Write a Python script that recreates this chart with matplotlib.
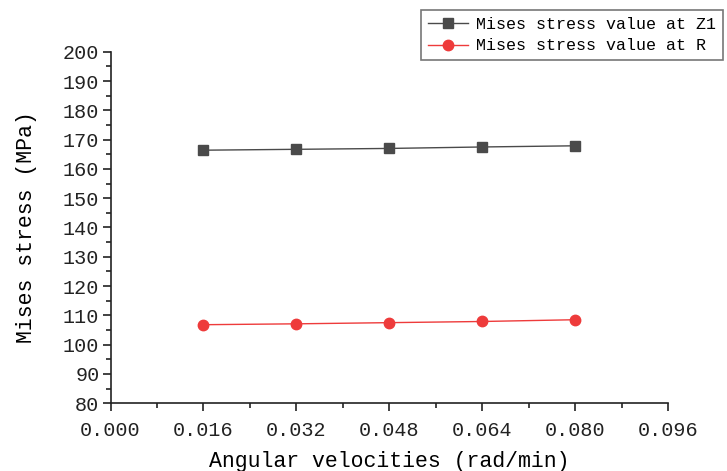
import matplotlib
matplotlib.use("Agg")
import matplotlib.pyplot as plt
from matplotlib.ticker import MultipleLocator, FormatStrFormatter

velocities = [0.016, 0.032, 0.048, 0.064, 0.080]
stress_z1 = [166.4, 166.7, 167.0, 167.5, 167.9]
stress_r = [106.8, 107.1, 107.5, 107.9, 108.5]
label_z1 = "Mises stress value at Z1"
label_r = "Mises stress value at R"

plt.rcParams['font.family'] = ['Liberation Mono', 'DejaVu Sans']

fig = plt.figure(figsize=(7.27, 4.71), dpi=100)
ax = fig.add_axes([0.152, 0.144, 0.767, 0.746])

ax.plot(velocities, stress_z1, color='#4a4a4a', marker='s', markersize=6.5,
        linewidth=1.0, label=label_z1)
ax.plot(velocities, stress_r, color='#ee3b3b', marker='o', markersize=7.5,
        linewidth=1.0, label=label_r)

ax.set_xlim(0, 0.096)
ax.set_ylim(80, 200)
ax.xaxis.set_major_locator(MultipleLocator(0.016))
ax.xaxis.set_minor_locator(MultipleLocator(0.008))
ax.yaxis.set_major_locator(MultipleLocator(10))
ax.yaxis.set_minor_locator(MultipleLocator(5))
ax.xaxis.set_major_formatter(FormatStrFormatter('%.3f'))

for s in ['top', 'right']:
    ax.spines[s].set_visible(False)
for s in ['left', 'bottom']:
    ax.spines[s].set_linewidth(1.2)
    ax.spines[s].set_color('#222222')

ax.tick_params(which='major', direction='out', length=6, width=1.2, labelsize=14.5, colors='#222222')
ax.tick_params(axis='x', which='major', pad=7)
ax.tick_params(axis='y', which='major', pad=2)
ax.tick_params(which='minor', direction='out', length=3.5, width=1.2, colors='#222222')

ax.set_xlabel('Angular velocities (rad/min)', fontsize=15.5, labelpad=8)
ax.set_ylabel('Mises stress (MPa)', fontsize=15.5, labelpad=19)

leg = fig.legend(loc='upper left', bbox_to_anchor=(421/727, 1 - 10/471),
                 fontsize=12, frameon=True, fancybox=False, handlelength=2.4,
                 borderpad=0.4, labelspacing=0.4, handletextpad=0.5, borderaxespad=0)
leg.get_frame().set_edgecolor('#555555')
leg.get_frame().set_linewidth(1.2)

fig.savefig('out.png', dpi=100)
